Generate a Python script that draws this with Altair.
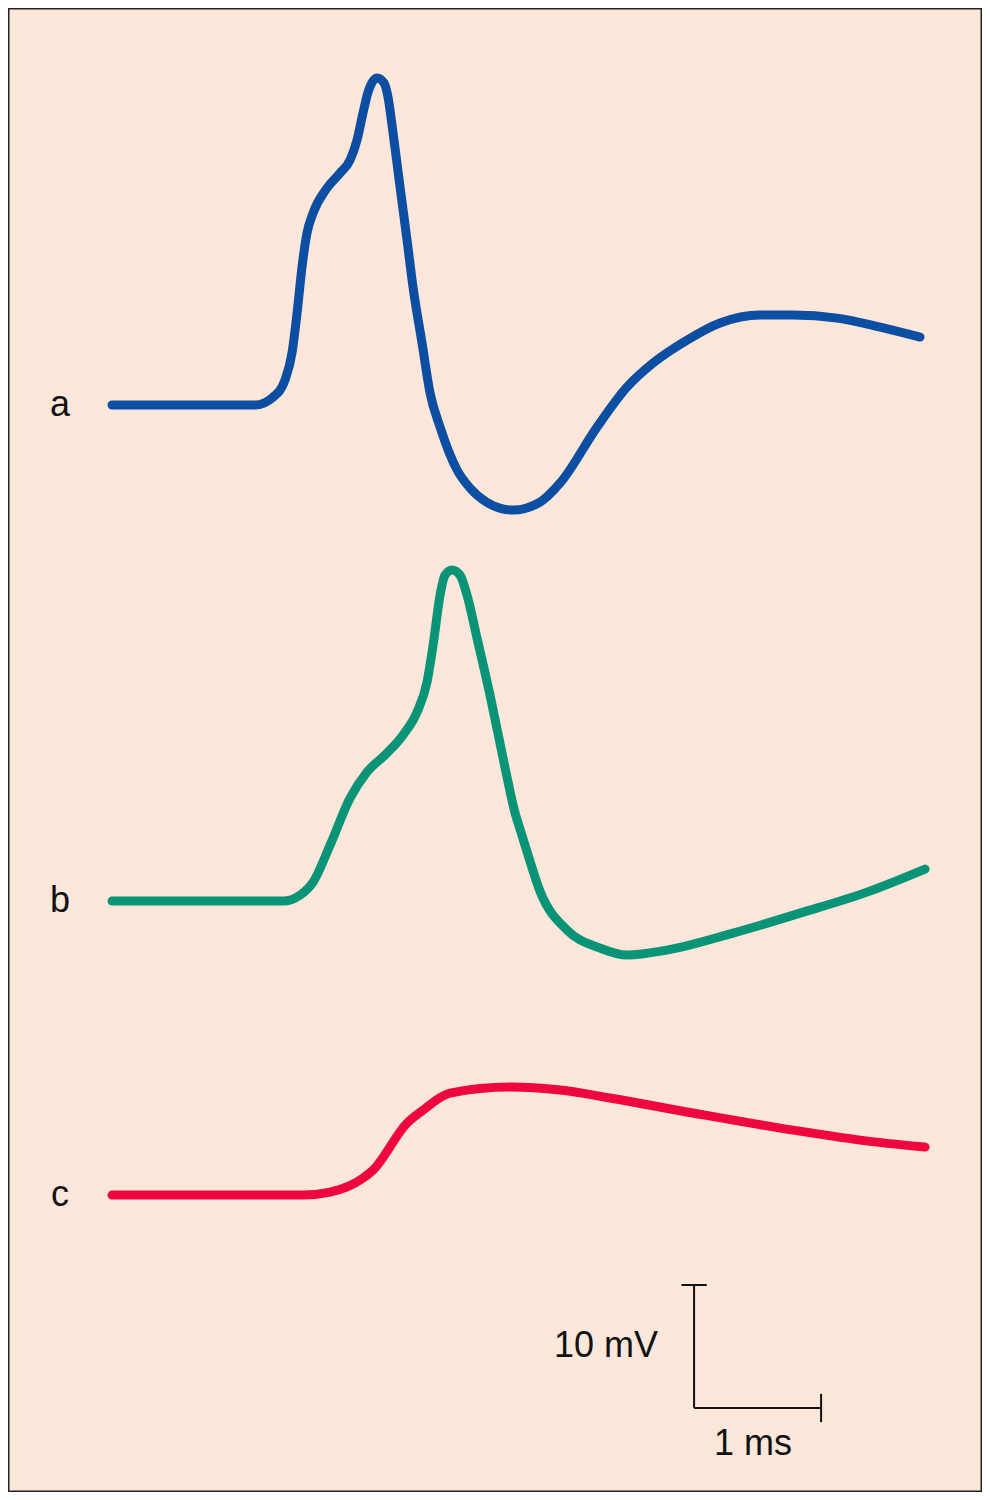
import altair as alt
import pandas as pd

# ---- data (time in ms, voltage in mV relative to each trace's baseline) ----
a_t = [0.0, 1.126, 1.268, 1.362, 1.417, 1.457, 1.496, 1.535, 1.583, 1.693, 1.795,
       1.874, 1.929, 1.976, 2.016, 2.087, 2.142, 2.173, 2.213, 2.268, 2.323, 2.370,
       2.441, 2.504, 2.583, 2.717, 2.819, 2.950, 3.060, 3.157, 3.370, 3.528, 3.819, 4.055,
       4.260, 4.528, 4.787, 5.102, 5.362, 5.709, 6.047, 6.362]
a_v = [0.0, 0.0, 0.65, 2.03, 4.23, 7.48, 11.22, 13.98, 15.61, 17.64, 18.86,
       19.92, 21.54, 23.74, 25.45, 26.59, 26.18, 25.04, 22.11, 17.72, 13.41, 9.59,
       5.04, 0.98, -1.79, -5.28, -6.75, -7.90, -8.40, -8.54, -7.89, -6.34, -1.79, 1.46,
       3.41, 5.28, 6.67, 7.32, 7.32, 7.07, 6.34, 5.53]

b_t = [0.0, 1.165, 1.346, 1.480, 1.583, 1.717, 1.874, 2.008, 2.165, 2.291, 2.402,
       2.480, 2.528, 2.583, 2.622, 2.677, 2.740, 2.795, 2.874, 2.976, 3.079, 3.120,
       3.165, 3.220, 3.268, 3.370, 3.583, 3.843, 4.055, 4.370, 4.890, 5.417, 5.945, 6.402]
b_v = [0.0, 0.0, 0.0, 0.49, 1.54, 4.55, 8.37, 10.49, 12.03, 13.50, 15.37,
       17.80, 20.81, 24.88, 26.50, 26.91, 26.50, 24.88, 21.38, 16.75, 11.63, 9.60,
       7.50, 5.60, 4.00, 0.80, -2.36, -3.82, -4.39, -3.98, -2.60, -0.98, 0.73, 2.60]

c_t = [0.0, 1.504, 1.717, 1.976, 2.055, 2.323, 2.449, 2.661, 3.134, 3.528, 3.921,
       4.575, 5.362, 5.890, 6.402]
c_v = [0.0, 0.0, 0.24, 1.38, 2.03, 5.85, 6.91, 8.29, 8.78, 8.54, 7.89,
       6.67, 5.28, 4.47, 3.90]

trace_names = ["a", "b", "c"]
trace_colors = ["#0b4ea2", "#0a9477", "#f0063f"]
stack_offset_mV = [0.0, -40.33, -64.23]   # vertical stacking of the traces

# scale bar: 1 ms, 10 mV
bar_t0 = 4.583
bar_v0 = -81.54
bar_ms = 1.0
bar_mV = 10.0
bar_labels = ["10 mV", "1 ms"]

# ---- build tables ----
rows = []
for name, ts, vs, off in zip(trace_names, [a_t, b_t, c_t], [a_v, b_v, c_v], stack_offset_mV):
    for i, (t, v) in enumerate(zip(ts, vs)):
        rows.append({"trace": name, "i": i, "t": t, "y": v + off})
df = pd.DataFrame(rows)

df_lab = pd.DataFrame({"trace": trace_names, "t": [-0.41] * 3, "y": stack_offset_mV})

cap_t = 0.1
cap_v = 1.15
df_bar = pd.DataFrame([
    {"x": bar_t0, "x2": bar_t0, "y": bar_v0, "y2": bar_v0 + bar_mV},
    {"x": bar_t0, "x2": bar_t0 + bar_ms, "y": bar_v0, "y2": bar_v0},
    {"x": bar_t0 - cap_t, "x2": bar_t0 + cap_t, "y": bar_v0 + bar_mV, "y2": bar_v0 + bar_mV},
    {"x": bar_t0 + bar_ms, "x2": bar_t0 + bar_ms, "y": bar_v0 - cap_v, "y2": bar_v0 + cap_v},
])
df_txt_v = pd.DataFrame({"t": [bar_t0 - 0.284], "y": [bar_v0 + 4.14], "text": [bar_labels[0]]})
df_txt_t = pd.DataFrame({"t": [bar_t0 + 0.464], "y": [bar_v0 - 3.83], "text": [bar_labels[1]]})

xs = alt.Scale(domain=[-0.819, 6.850], nice=False, zero=False)
ys = alt.Scale(domain=[-88.37, 32.28], nice=False, zero=False)
FONT = "Liberation Sans"

lines = alt.Chart(df).mark_line(
    strokeWidth=9, strokeCap="round", strokeJoin="round", interpolate="monotone"
).encode(
    x=alt.X("t:Q", scale=xs, axis=None),
    y=alt.Y("y:Q", scale=ys, axis=None),
    color=alt.Color("trace:N", scale=alt.Scale(domain=trace_names, range=trace_colors), legend=None),
    order="i:Q",
)

labels = alt.Chart(df_lab).mark_text(
    font=FONT, fontSize=36, color="#111111", align="center", baseline="alphabetic", dy=11
).encode(
    x=alt.X("t:Q", scale=xs), y=alt.Y("y:Q", scale=ys), text="trace:N"
)

bar = alt.Chart(df_bar).mark_rule(strokeWidth=2, color="#111111").encode(
    x=alt.X("x:Q", scale=xs), x2="x2:Q", y=alt.Y("y:Q", scale=ys), y2="y2:Q"
)

txt_v = alt.Chart(df_txt_v).mark_text(
    font=FONT, fontSize=36, color="#111111", align="right", baseline="alphabetic"
).encode(x=alt.X("t:Q", scale=xs), y=alt.Y("y:Q", scale=ys), text="text:N")

txt_t = alt.Chart(df_txt_t).mark_text(
    font=FONT, fontSize=36, color="#111111", align="center", baseline="alphabetic"
).encode(x=alt.X("t:Q", scale=xs), y=alt.Y("y:Q", scale=ys), text="text:N")

chart = alt.layer(lines, labels, bar, txt_v, txt_t).properties(
    width=974, height=1484, padding=0, background="#fde7db"
).configure_view(stroke="#222222", strokeWidth=3)

chart.save("out.html", embed_options={"renderer": "svg", "actions": False})
